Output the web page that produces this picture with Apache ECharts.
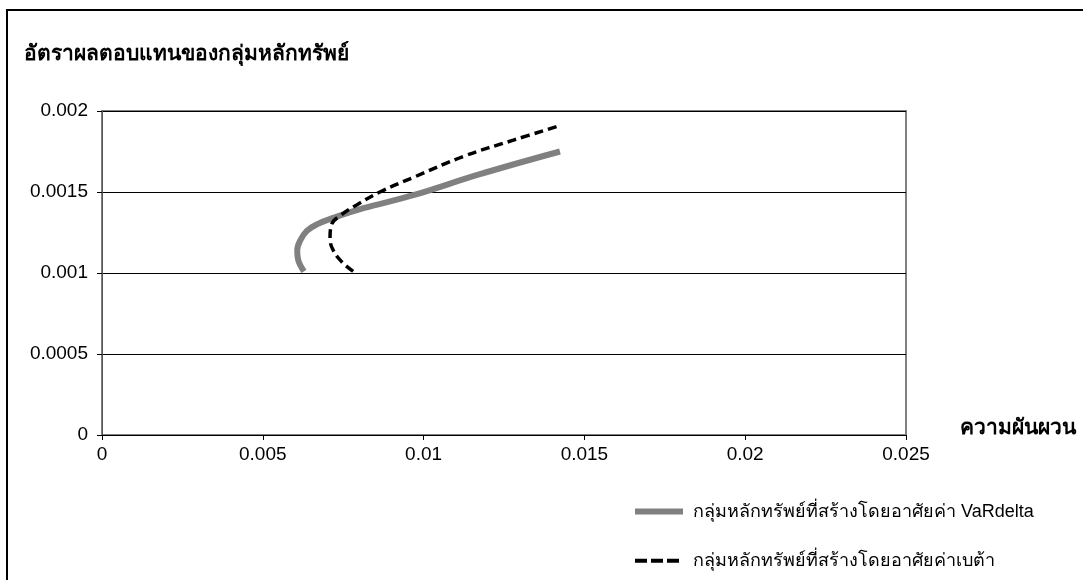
<!DOCTYPE html>
<html><head><meta charset="utf-8">
<script src="https://cdn.jsdelivr.net/npm/echarts@6/dist/echarts.min.js"></script>
<style>html,body{margin:0;padding:0;background:#fff}#c{width:1083px;height:580px}</style>
</head><body><div id="c"></div>
<script>
const titleText = 'อัตราผลตอบแทนของกลุ่มหลักทรัพย์';
const xAxisName = 'ความผันผวน';
const seriesNames = ['กลุ่มหลักทรัพย์ที่สร้างโดยอาศัยค่า VaRdelta', 'กลุ่มหลักทรัพย์ที่สร้างโดยอาศัยค่าเบต้า'];
const varDeltaX = [0.00628, 0.00610, 0.00607, 0.00616, 0.00637, 0.00668, 0.00719, 0.00813, 0.00968, 0.01175, 0.01424];
const varDeltaY = [0.00101, 0.00108, 0.00114, 0.00120, 0.00126, 0.00130, 0.00134, 0.00140, 0.00148, 0.00161, 0.00175];
const betaX = [0.00781, 0.00745, 0.00719, 0.00709, 0.00714, 0.00745, 0.00792, 0.00864, 0.00968, 0.01124, 0.01279, 0.01424];
const betaY = [0.00101, 0.00107, 0.00114, 0.00121, 0.00130, 0.00136, 0.00142, 0.00150, 0.00159, 0.00172, 0.00182, 0.00191];

const chart = echarts.init(document.getElementById('c'));
const font = '"Liberation Sans", Arial, sans-serif';
chart.setOption({
  animation: false,
  textStyle: {fontFamily: font},
  grid: {left: 102, top: 111, right: 177, bottom: 145, show: true, borderColor: '#808080', borderWidth: 2},
  xAxis: {
    type: 'value', min: 0, max: 0.025, interval: 0.005,
    axisLine: {show: true, onZero: false, lineStyle: {color: '#000', width: 1}},
    axisTick: {show: true, length: 5, lineStyle: {color: '#000'}},
    splitLine: {show: false},
    axisLabel: {color: '#000', fontSize: 19, margin: 10, fontFamily: font}
  },
  yAxis: {
    type: 'value', min: 0, max: 0.002, interval: 0.0005,
    axisLine: {show: true, lineStyle: {color: '#555', width: 1}},
    axisTick: {show: true, length: 5, lineStyle: {color: '#000'}},
    splitLine: {show: true, lineStyle: {color: '#000', width: 1}},
    axisLabel: {color: '#000', fontSize: 19, margin: 14, fontFamily: font}
  },
  legend: {
    orient: 'vertical', left: 627, top: 497, itemWidth: 48, itemHeight: 24, itemGap: 30,
    itemStyle: {opacity: 0},
    textStyle: {fontSize: 18, color: '#000', fontFamily: font, padding: [0, 0, 0, 5]},
    data: [
      {name: seriesNames[0], lineStyle: {width: 6, color: '#808080'}},
      {name: seriesNames[1], lineStyle: {width: 4, color: '#000', type: [12, 4]}}
    ]
  },
  graphic: [
    {type: 'polyline', shape: {points: [[7, 580], [7, 10], [1083, 10]]}, style: {stroke: '#000', lineWidth: 2, fill: null}},
    {type: 'text', left: 24, top: 44, style: {text: titleText, font: 'bold 21px ' + font, fill: '#000'}},
    {type: 'text', left: 960, top: 418, style: {text: xAxisName, font: 'bold 21px ' + font, fill: '#000'}}
  ],
  series: [
    {name: seriesNames[0], type: 'line', smooth: 0.4, symbol: 'none',
     lineStyle: {color: '#808080', width: 6}, itemStyle: {color: '#808080'},
     data: varDeltaX.map((x, i) => [x, varDeltaY[i]])},
    {name: seriesNames[1], type: 'line', smooth: 0.4, symbol: 'none',
     lineStyle: {color: '#000', width: 3.5, type: [9, 5]}, itemStyle: {color: '#000'},
     data: betaX.map((x, i) => [x, betaY[i]])}
  ]
});
</script></body></html>
